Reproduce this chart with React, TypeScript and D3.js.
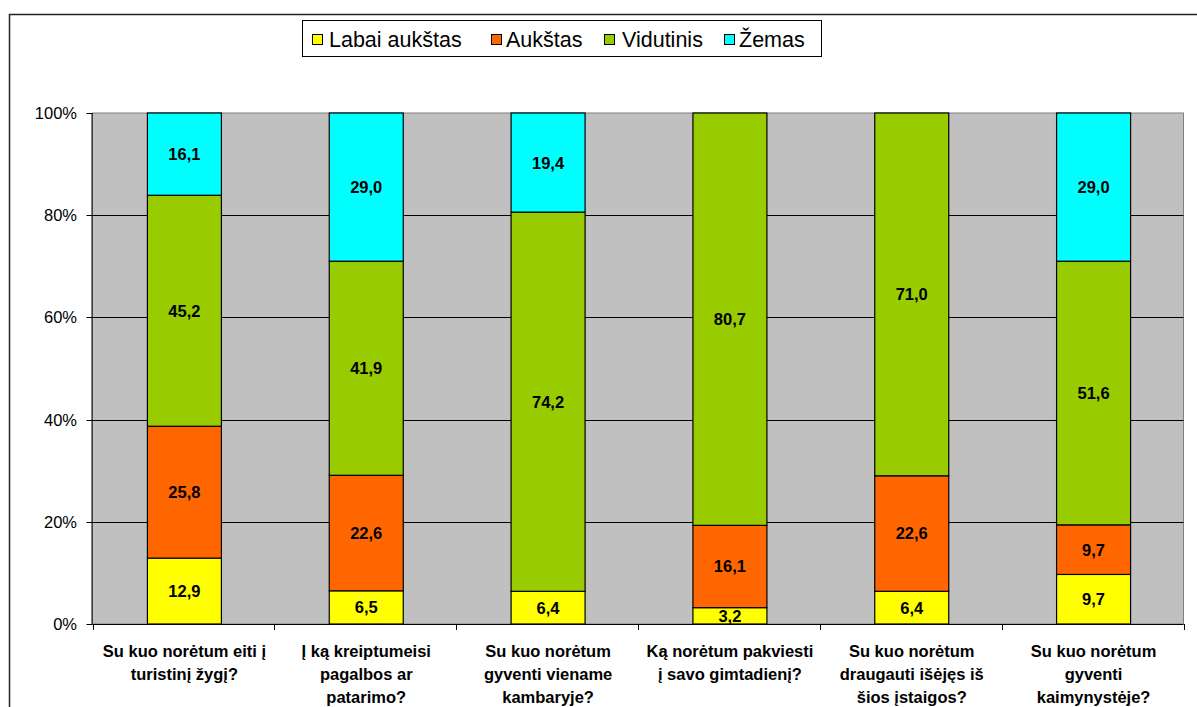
import React from "react";
import * as d3 from "d3";

const categories: string[][] = [
  ["Su kuo norėtum eiti į", "turistinį žygį?"],
  ["Į ką kreiptumeisi", "pagalbos ar", "patarimo?"],
  ["Su kuo norėtum", "gyventi viename", "kambaryje?"],
  ["Ką norėtum pakviesti", "į savo gimtadienį?"],
  ["Su kuo norėtum", "draugauti išėjęs iš", "šios įstaigos?"],
  ["Su kuo norėtum", "gyventi", "kaimynystėje?"],
];
const seriesNames = ["Labai aukštas", "Aukštas", "Vidutinis", "Žemas"];
const labaiAukstas = [12.9, 6.5, 6.4, 3.2, 6.4, 9.7];
const aukstas = [25.8, 22.6, 0, 16.1, 22.6, 9.7];
const vidutinis = [45.2, 41.9, 74.2, 80.7, 71.0, 51.6];
const zemas = [16.1, 29.0, 19.4, 0, 0, 29.0];
const yTicks = [0, 20, 40, 60, 80, 100];
const colors = ["#ffff00", "#ff6600", "#99cc00", "#00ffff"];

const W = 1197, H = 707;
const plot = { left: 92.5, right: 1183.5, top: 113, bottom: 624 };

export default function App() {
  const series = [labaiAukstas, aukstas, vidutinis, zemas];
  const n = categories.length;
  const pi = 1 - 74 / ((plot.right - plot.left) / n);
  const x = d3.scaleBand<number>().domain(d3.range(n)).range([plot.left + 1, plot.right + 1]).paddingInner(pi).paddingOuter(pi / 2);
  const xOuter = d3.scaleBand<number>().domain(d3.range(n)).range([plot.left, plot.right]);
  const y = d3.scaleLinear().domain([0, 100]).range([plot.bottom, plot.top]);
  const font = "'Liberation Sans', Arial, sans-serif";

  const segs: { i: number; s: number; y0: number; y1: number; v: number }[] = [];
  categories.forEach((_, i) => {
    let acc = 0;
    series.forEach((arr, s) => {
      const v = arr[i];
      if (v > 0) segs.push({ i, s, y0: acc, y1: acc + v, v });
      acc += v;
    });
  });

  const legendItems = [
    { sx: 312, tx: 329, label: seriesNames[0] },
    { sx: 491, tx: 506, label: seriesNames[1] },
    { sx: 604, tx: 622, label: seriesNames[2] },
    { sx: 724, tx: 739, label: seriesNames[3] },
  ];

  return (
    <svg width={W} height={H} style={{ position: "absolute", left: 0, top: 0, background: "#fff" }} fontFamily={font}>
      <rect x={9.5} y={14.5} width={W + 10} height={H + 10} fill="#fff" stroke="#222" strokeWidth={1.5} />
      <rect x={plot.left} y={plot.top} width={plot.right - plot.left} height={plot.bottom - plot.top} fill="#c0c0c0" stroke="#808080" strokeWidth={1} />
      {yTicks.filter((t) => t > 0 && t < 100).map((t) => (
        <line key={t} x1={plot.left} x2={plot.right} y1={Math.round(y(t)) + 0.5} y2={Math.round(y(t)) + 0.5} stroke="#000" strokeWidth={1} />
      ))}
      {segs.map((d, k) => (
        <rect key={k} x={x(d.i)!} y={y(d.y1)} width={x.bandwidth()} height={y(d.y0) - y(d.y1)} fill={colors[d.s]} stroke="#000" strokeWidth={1.2} />
      ))}
      {segs.map((d, k) => (
        <text key={"t" + k} x={x(d.i)! + x.bandwidth() / 2} y={(y(d.y0) + y(d.y1)) / 2} dy="0.36em" textAnchor="middle" fontSize={16.5} fontWeight="bold" fill="#000">
          {d.v.toFixed(1).replace(".", ",")}
        </text>
      ))}
      {/* y axis */}
      <line x1={plot.left - 0.5} x2={plot.left - 0.5} y1={plot.top} y2={plot.bottom} stroke="#000" />
      {yTicks.map((t) => (
        <g key={t}>
          <line x1={plot.left - 6} x2={plot.left} y1={Math.round(y(t)) + 0.5} y2={Math.round(y(t)) + 0.5} stroke="#000" />
          <text x={plot.left - 15.5} y={y(t)} dy="0.36em" textAnchor="end" fontSize={16.5} fill="#000">{t}%</text>
        </g>
      ))}
      {/* x axis */}
      <line x1={plot.left} x2={plot.right} y1={plot.bottom + 0.5} y2={plot.bottom + 0.5} stroke="#000" />
      {d3.range(n + 1).map((i) => {
        const xx = Math.round(plot.left + i * xOuter.step()) + 0.5;
        return <line key={i} x1={xx} x2={xx} y1={plot.bottom} y2={plot.bottom + 6} stroke="#000" />;
      })}
      {categories.map((lines, i) => {
        const cx = xOuter(i)! + xOuter.bandwidth() / 2 + 1;
        return (
          <text key={i} x={cx} y={657} textAnchor="middle" fontSize={16.5} fontWeight="bold" fill="#000">
            {lines.map((l, j) => (
              <tspan key={j} x={cx} dy={j === 0 ? 0 : 23}>{l}</tspan>
            ))}
          </text>
        );
      })}
      {/* legend */}
      <rect x={302.5} y={20.5} width={519} height={36} fill="#fff" stroke="#000" strokeWidth={1} />
      {legendItems.map((it, k) => (
        <g key={k}>
          <rect x={it.sx + 0.5} y={34.5} width={10} height={10} fill={colors[k]} stroke="#000" strokeWidth={1} />
          <text x={it.tx} y={47} fontSize={21.5} fill="#000">{it.label}</text>
        </g>
      ))}
    </svg>
  );
}
